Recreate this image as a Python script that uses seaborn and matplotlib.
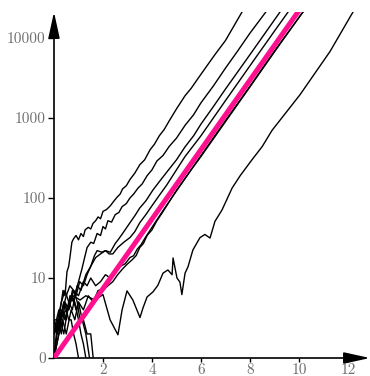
import numpy as np
import pandas as pd
import matplotlib
matplotlib.use("Agg")
import matplotlib.pyplot as plt
from matplotlib.ticker import NullLocator
import seaborn as sns

sns.set_theme(style="white")
plt.rcParams["font.family"] = ["cmr10", "DejaVu Serif"]
plt.rcParams["axes.formatter.use_mathtext"] = True

# ---------------- data ----------------
a_t = [0, 0.08, 0.2, 0.3, 0.37, 0.45, 0.53, 0.6, 0.65, 0.73, 0.8, 0.9, 1.0, 1.1, 1.2, 1.27, 1.4,
       1.5, 1.59, 1.7, 1.8, 1.9, 2.0, 2.15, 2.3, 2.45, 2.57, 2.7, 2.8, 2.95, 3.1, 3.3, 3.5, 3.7,
       3.92, 4.1, 4.3, 4.5, 4.73, 5.0, 5.35, 5.6, 5.84, 6.2, 6.57, 7.0, 7.67, 7.9]
a_z = [2, 2.2, 3, 5, 7, 6, 12, 14, 18, 28, 31, 34, 30, 36, 33, 40, 43,
       41, 48, 52, 58, 55, 68, 72, 80, 92, 102, 112, 130, 142, 170, 205, 260, 300,
       400, 470, 600, 720, 950, 1300, 1900, 2350, 3000, 4300, 6200, 9300, 21000, 27000]

b_t = [0, 0.15, 0.3, 0.45, 0.6, 0.75, 0.9, 1.0, 1.14, 1.25, 1.35, 1.5, 1.62, 1.76, 1.9, 2.0,
       2.1, 2.2, 2.35, 2.5, 2.65, 2.78, 2.95, 3.1, 3.25, 3.43, 3.6, 3.8, 4.0, 4.2, 4.45, 4.7,
       5.0, 5.35, 5.7, 6.0, 6.5, 7.0, 7.5, 8.0, 8.69, 8.9]
b_z = [3, 2, 4, 3, 5, 4, 7, 9, 13, 18, 24, 28, 27, 36, 34, 44,
       41, 52, 50, 62, 66, 78, 85, 100, 112, 133, 150, 190, 225, 290, 340, 440,
       560, 810, 1100, 1550, 2500, 4200, 6900, 11500, 22000, 27000]

c_t = [0, 0.2, 0.35, 0.5, 0.65, 0.8, 0.95, 1.1, 1.3, 1.5, 1.7, 1.9, 2.1, 2.3, 2.5, 2.65, 2.8,
       2.95, 3.1, 3.3, 3.5, 3.75, 4.04, 4.3, 4.6, 5.0, 5.35, 5.7, 6.0, 6.5, 7.0, 8.0, 9.22, 9.5]
c_z = [1, 2, 4, 3, 6, 5, 8, 7, 11, 14, 18, 20, 22, 21, 27, 31, 36,
       42, 49, 60, 75, 92, 126, 160, 210, 300, 436, 600, 840, 1380, 2300, 6200, 21000, 28000]

d_t = [0, 0.15, 0.3, 0.45, 0.6, 0.75, 0.9, 1.05, 1.2, 1.35, 1.5, 1.65, 1.76, 1.95, 2.1, 2.25,
       2.4, 2.6, 2.85, 3.1, 3.3, 3.5, 3.75, 4.0, 4.3, 4.6, 5.0, 5.35, 6.0, 7.0, 8.0, 9.0, 9.55, 9.8]
d_z = [2, 3, 2, 5, 4, 7, 6, 9, 8, 11, 14, 19, 22, 21, 22, 20,
       20, 24, 28, 32, 38, 49, 62, 80, 108, 145, 225, 330, 600, 1650, 4500, 12200, 21000, 27000]

e_t = [0, 0.2, 0.35, 0.5, 0.7, 0.85, 1.0, 1.2, 1.4, 1.6, 1.8, 2.0, 2.2, 2.4, 2.6, 2.8,
       3.0, 3.2, 3.35, 3.5, 3.65, 3.8, 4.0, 4.2, 4.4, 4.6, 5.0, 5.5, 6.0, 7.0, 8.0, 9.0, 10.16, 10.4]
e_z = [1, 2, 3, 2, 4, 3, 5, 4, 6, 5, 7, 7, 8, 9, 11, 13,
       15, 17, 19, 24, 27, 34, 40, 52, 64, 80, 125, 205, 340, 930, 2500, 6900, 21000, 27000]

g_t = [0, 0.25, 0.4, 0.6, 0.8, 1.0, 1.2, 1.35, 1.5, 1.7, 1.9, 2.1, 2.3, 2.5, 2.7, 2.9,
       3.1, 3.25, 3.4, 3.55, 3.7, 4.0, 4.4, 4.8, 5.2, 5.6, 6.0, 7.0, 8.0, 9.0, 10.1, 10.4]
g_z = [3, 3, 5, 4, 7, 6, 9, 8, 10, 8, 9, 11, 10, 12, 14, 15,
       18, 19, 23, 26, 31, 43, 66, 100, 150, 225, 330, 900, 2450, 6700, 20000, 26000]

f_t = [0, 0.24, 0.5, 0.8, 1.06, 1.3, 1.67, 2.0, 2.29, 2.61, 2.78, 2.98, 3.22, 3.51, 3.63, 3.8,
       4.04, 4.24, 4.45, 4.65, 4.82, 4.86, 5.02, 5.14, 5.22, 5.35, 5.47, 5.67, 5.96, 6.16, 6.37,
       6.57, 6.86, 7.27, 7.6, 8.08, 8.5, 8.9, 10.04, 11.27, 12.2, 12.5]
f_z = [2, 3, 4, 6, 5.3, 6, 5.3, 6.2, 3, 1.95, 4, 6.9, 5.3, 3.2, 4.2, 5.8,
       6.7, 8.1, 11.5, 12.6, 11, 17.8, 10, 8.9, 6.2, 11.5, 13.8, 22.4, 32, 35, 31.6,
       51, 71, 133, 190, 300, 440, 700, 1950, 6800, 21000, 28000]

h1_t = [0, 0.1, 0.2, 0.3, 0.4, 0.5, 0.6, 0.7, 0.8, 0.9, 1.0]
h1_z = [2, 3, 4, 3, 5, 4, 3, 3, 2, 1.5, 1]

h2_t = [0, 0.15, 0.3, 0.45, 0.6, 0.75, 0.9, 1.0, 1.15, 1.3, 1.45]
h2_z = [1, 3, 5, 7, 5, 6, 4, 5, 3, 2, 1]

h3_t = [0, 0.12, 0.25, 0.4, 0.55, 0.7, 0.85, 1.0, 1.1, 1.2, 1.3]
h3_z = [3, 2, 3, 2, 4, 6, 5, 3, 2, 1.5, 1]

h4_t = [0, 0.2, 0.35, 0.5, 0.65, 0.8, 0.95, 1.06, 1.2, 1.35, 1.5, 1.6]
h4_z = [1, 3, 4, 6, 8, 7, 5, 3, 3, 2, 2, 1]

pink_t = [0, 10.5]
pink_z = [1, 36300]

y_ticks = [1, 10, 100, 1000, 10000]
y_labels = ["0", "10", "100", "1000", "10000"]
x_ticks = [2, 4, 6, 8, 10, 12]
x_labels = ["2", "4", "6", "8", "10", "12"]

paths = {"A": (a_t, a_z), "B": (b_t, b_z), "C": (c_t, c_z), "D": (d_t, d_z),
         "E": (e_t, e_z), "G": (g_t, g_z), "F": (f_t, f_z),
         "H1": (h1_t, h1_z), "H2": (h2_t, h2_z), "H3": (h3_t, h3_z), "H4": (h4_t, h4_z)}
rows = []
for name, (ts, zs) in paths.items():
    for t, z in zip(ts, zs):
        rows.append((name, t, z))
df = pd.DataFrame(rows, columns=["path", "t", "z"])

# ---------------- figure ----------------
fig = plt.figure(figsize=(3.7, 3.76), dpi=100)
ax = fig.add_axes([54 / 370, 18 / 376, 316 / 370, 346 / 376])

sns.lineplot(data=df, x="t", y="z", units="path", estimator=None, sort=False,
             color="black", lw=1.0, ax=ax, legend=False)
sns.lineplot(x=pink_t, y=pink_z, color="#ff1090", lw=3.6, ax=ax, zorder=5)

ax.set_yscale("log")
ax.set_xlim(0, 12.9)
ax.set_ylim(1, 10 ** 4.325)
ax.set_yticks(y_ticks, y_labels)
ax.set_xticks(x_ticks, x_labels)
ax.yaxis.set_minor_locator(NullLocator())
ax.set_xlabel("")
ax.set_ylabel("")

for s in ax.spines.values():
    s.set_visible(False)

ax.tick_params(axis="y", direction="out", length=4, width=1.0, color="black",
               labelcolor="#707070", labelsize=11, pad=2, left=True)
ax.tick_params(axis="x", direction="out", length=3, width=1.0, color="black",
               labelcolor="#707070", labelsize=11, pad=0.5, bottom=True)

arrow = dict(arrowstyle="-|>,head_length=1.6,head_width=0.35", mutation_scale=10,
             lw=1.2, color="black", shrinkA=0, shrinkB=0)
ax.annotate("", xy=(1, 0), xytext=(0, 0), xycoords="axes fraction",
            textcoords="axes fraction", arrowprops=arrow, annotation_clip=False)
ax.annotate("", xy=(0, 1), xytext=(0, 0), xycoords="axes fraction",
            textcoords="axes fraction", arrowprops=arrow, annotation_clip=False)

fig.savefig("out.png", dpi=100)
